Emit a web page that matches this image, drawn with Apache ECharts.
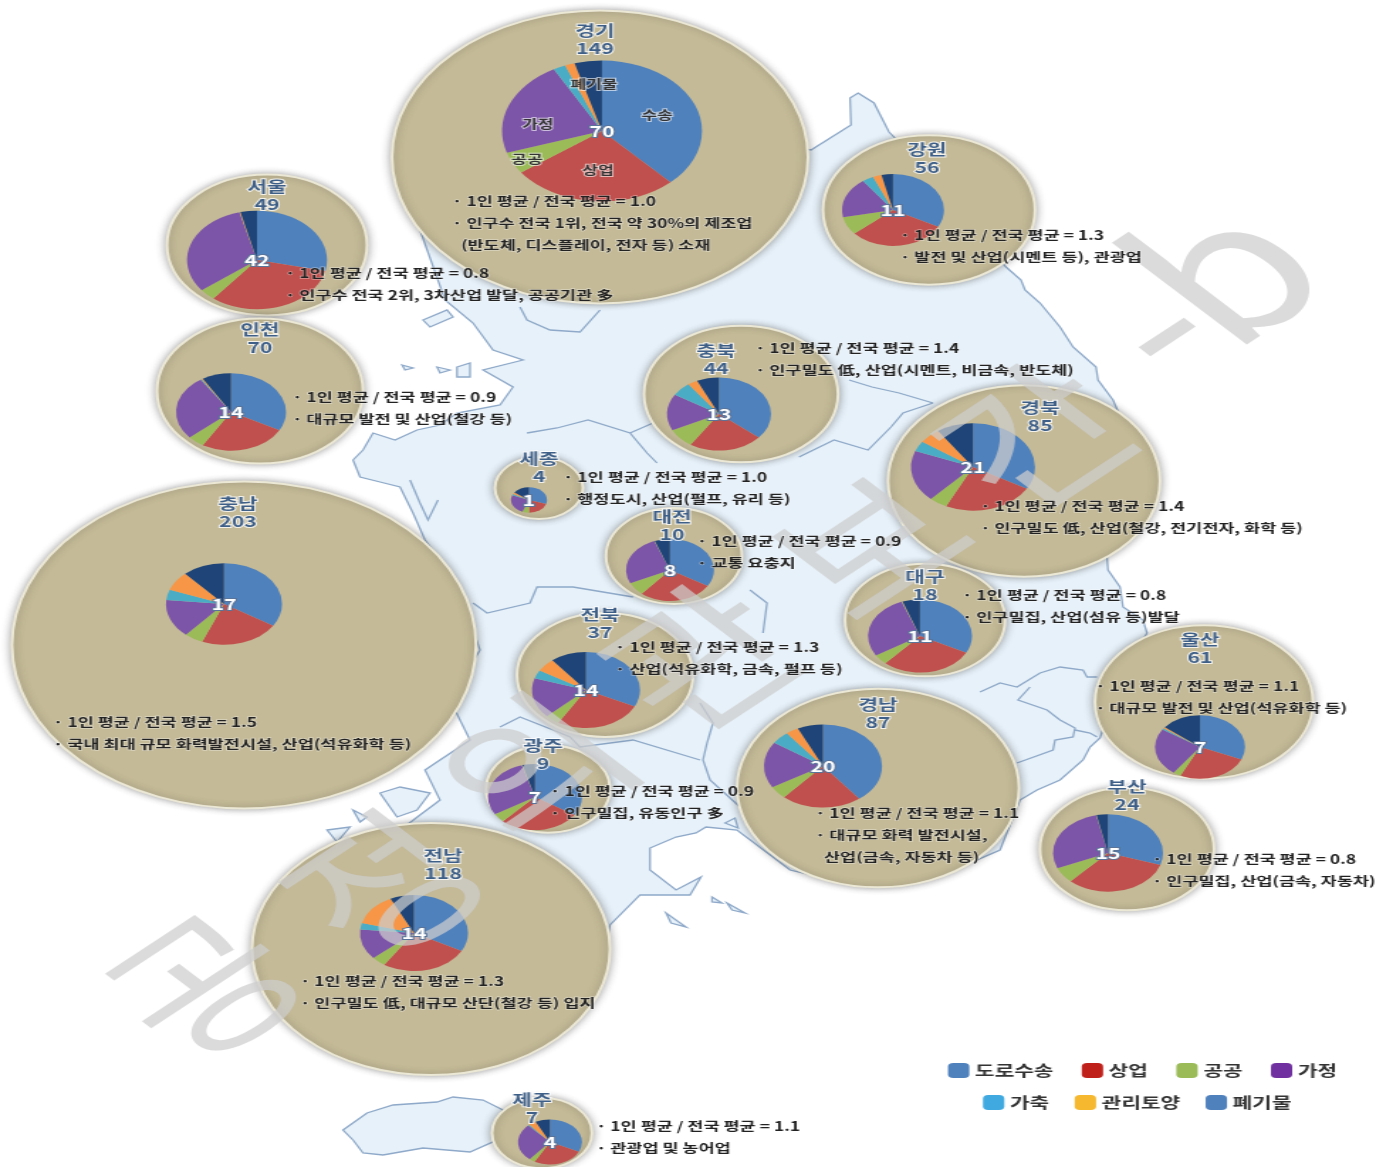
<!DOCTYPE html>
<html lang="ko"><head><meta charset="utf-8">
<style>html,body{margin:0;padding:0;background:#fff;overflow:hidden;width:1388px;height:1167px}
#stage{position:absolute;left:0;top:0;height:1167px;transform-origin:0 0;filter:blur(.45px)}</style>
<script src="https://cdn.jsdelivr.net/npm/echarts@6/dist/echarts.min.js"></script>
</head><body><div id="stage"></div>
<script>
// ---------- data ----------
const regions = ['경기','서울','인천','강원','충북','세종','대전','경북','충남','대구','전북','울산','광주','경남','부산','전남','제주'];
const bubbleTotals = [149,49,70,56,44,4,10,85,203,18,37,61,9,87,24,118,7];
const pieTotals = [70,42,14,11,13,1,8,21,17,11,14,7,7,20,15,14,4];
const sectors = ['도로수송','상업','공공','가정','가축','관리토양','폐기물'];
const transport = [26.6,12,4.6,3.6,4.7,.3,2.7,7,5.8,3.6,4.5,2.2,2.4,7.9,4.5,4.6,1.3];
const commerce  = [18.9,13.5,3.6,3.4,3,.2,2.2,5,3.8,3.2,3.7,1.8,1.95,4.4,4.8,3.7,1.05];
const publicUse = [3.5,1.6,.7,.9,1.1,.06,.55,1,.9,.5,.6,.2,.3,1,1,.6,.12];
const household = [15.4,13.2,3.8,2,2.1,.25,2.1,4,2.6,3.1,2.4,1.7,2.05,3.6,4.2,1.8,1.1];
const livestock = [1.4,.02,.05,.4,.8,.02,.01,.8,.7,.02,.5,.05,.01,1,.01,.4,.03];
const soil      = [1.1,.08,.05,.3,.4,.02,.01,1.2,1.3,.02,.8,.05,.01,.7,.01,1.9,.15];
const waste     = [3.1,1.6,1.2,.4,.9,.15,.45,2,2,.6,1.5,1,.3,1.4,.5,1,.3];
const sectorSeries = [transport,commerce,publicUse,household,livestock,soil,waste];
const ratios = ['1.0','0.8','0.9','1.3','1.4','1.0','0.9','1.4','1.5','0.8','1.3','1.1','0.9','1.1','0.8','1.3','1.1'];
const notes = [
 ['· 인구수 전국 1위, 전국 약 30%의 제조업','(반도체, 디스플레이, 전자 등) 소재'],
 ['· 인구수 전국 2위, 3차산업 발달, 공공기관 多'],
 ['· 대규모 발전 및 산업(철강 등)'],
 ['· 발전 및 산업(시멘트 등), 관광업'],
 ['· 인구밀도 低, 산업(시멘트, 비금속, 반도체)'],
 ['· 행정도시, 산업(펄프, 유리 등)'],
 ['· 교통 요충지'],
 ['· 인구밀도 低, 산업(철강, 전기전자, 화학 등)'],
 ['· 국내 최대 규모 화력발전시설, 산업(석유화학 등)'],
 ['· 인구밀집, 산업(섬유 등)발달'],
 ['· 산업(석유화학, 금속, 펄프 등)'],
 ['· 대규모 발전 및 산업(석유화학 등)'],
 ['· 인구밀집, 유동인구 多'],
 ['· 대규모 화력 발전시설,','산업(금속, 자동차 등)'],
 ['· 인구밀집, 산업(금속, 자동차)'],
 ['· 인구밀도 低, 대규모 산단(철강 등) 입지'],
 ['· 관광업 및 농어업']
];
const sliceLabels = [['수송',657,115],['상업',598,170],['공공',527,159],['가정',538,124],['폐기물',594,84]];
const watermarkGlyphs = [['공',205,985,140],['정',385,885,140],['의',535,767,140],['관',700,658,140],['보',870,546,140],['간',1035,437,140],['-',1167,337,170],['b',1222,270,175]];

// ---------- layout (reference pixels) ----------
const K = 1.42; // the reference is stretched horizontally
document.getElementById('stage').style.width = (1388/K)+'px';
document.getElementById('stage').style.transform = 'scaleX('+K+')';
const bubbleBox = [[600,157,208],[267,245,100],[260,391,103],[929,210,106],[741,394,97],[539,488,44],[674,556,68],[1024,481,136],[244,645,232],[925,620,80],[605,675,88],[1204,702,109],[548,789,62],[878,788,141],[1127,849,87],[431,949,179],[542,1133,50]];
const pieBox = [[602,131,100],[257,260,70],[231,412,55],[893,210,51],[719,414,52],[529,500,18],[670,570,44],[973,467,62],[224,604,58],[920,636,52],[586,690,54],[1200,747,45],[535,797,47],[823,766,59],[1108,853,55],[414,933,54],[550,1142,32]];
const nameBox = [[595,30],[267,186],[260,329],[927,149],[716,350],[539,458],[672,516],[1040,407],[238,503],[925,576],[600,614],[1200,639],[543,745],[878,704],[1127,786],[443,855],[532,1099]];
const noteBox = [[452,201],[285,273],[292,397],[900,235],[755,348],[563,477],[697,541],[980,506],[53,722],[962,595],[615,647],[1095,686],[550,791],[815,813],[1152,859],[300,981],[596,1126]];
const sliceColors = ['#4f81bd','#c0504d','#9bbb59','#7d55a8','#4bacc6','#f79646','#1f4477'];
const legendColors = ['#4f81bd','#c0201a','#9bbb59','#7030a0','#3fa9e0','#f5b82e','#4f81bd'];

// map backdrop
const landOutline = [[858,93],[874,103],[889,132],[895,138],[1006,267],[1021,280],[1025,290],[1040,303],[1060,327],[1073,347],[1096,367],[1098,380],[1113,400],[1135,450],[1130,520],[1107,557],[1108,570],[1120,587],[1123,607],[1143,620],[1147,633],[1120,680],[1100,738],[1090,747],[1083,760],[1060,780],[1037,790],[1020,800],[1000,850],[930,880],[854,885],[790,870],[737,830],[706,827],[696,833],[676,837],[650,848],[650,870],[676,890],[701,877],[690,895],[640,895],[610,925],[600,975],[570,1000],[500,1020],[400,1040],[300,1000],[330,950],[370,850],[400,830],[440,800],[425,770],[470,740],[450,700],[480,650],[455,580],[440,560],[425,540],[413,513],[400,487],[380,482],[360,477],[353,460],[363,450],[373,433],[395,440],[417,430],[440,425],[457,413],[500,405],[513,387],[483,370],[523,360],[493,350],[473,323],[445,300],[420,230],[500,100],[811,150],[851,125],[850,98]];
const islands = [
 [[423,320],[447,310],[453,317],[430,327]],[[437,367],[450,370],[440,373]],[[457,367],[470,363],[470,377],[457,377]],[[402,365],[413,368],[405,370]],
 [[712,897],[722,903],[712,902]],[[727,903],[745,913],[732,910]],[[666,913],[686,927],[671,923]],[[725,823],[735,818],[738,828]],
 [[380,793],[400,787],[430,793],[417,810],[397,817]],[[353,810],[367,817],[360,822]],[[327,830],[350,827],[337,842]],
 [[343,1130],[367,1113],[393,1105],[437,1102],[453,1097],[483,1100],[503,1110],[497,1140],[470,1152],[423,1148],[383,1155],[363,1153],[353,1140]]
];
const borders = [
 [[527,433],[557,428],[588,420],[630,433],[647,453],[657,463]],
 [[520,307],[527,320],[550,330],[580,332],[600,310]],
 [[473,603],[487,613],[530,603],[537,587],[573,587],[633,597]],
 [[849,380],[872,387],[899,393],[933,403]],
 [[799,457],[834,440],[868,450],[891,427],[903,413],[933,403]],
 [[700,703],[713,723],[707,743],[703,760],[710,780],[740,807]],
 [[500,727],[520,717],[553,730],[570,737],[580,747],[633,740],[700,760]],
 [[980,692],[1000,683],[1017,687],[1040,673],[1060,667],[1083,670],[1087,677],[1097,677]],
 [[1030,687],[1018,700],[1047,710],[1060,720],[1075,728],[1073,737],[1055,740],[1053,750],[1017,763]],
 [[1075,730],[1090,733],[1097,737]],
 [[763,633],[767,603],[750,590]],
 [[630,433],[660,420],[650,390],[700,340]],
 [[410,480],[420,503],[428,520],[438,500]]
];

// ---------- build ----------
const FONT = '"Noto Sans CJK KR","Noto Sans",sans-serif';
const scalePts = pts => pts.map(p => [p[0]/K, p[1]]);
const graphic = [];
[landOutline].concat(islands).forEach(pts => graphic.push({type:'polygon',z:0,silent:true,
  shape:{points:scalePts(pts)},style:{fill:'#e7f1f9',stroke:'#8ea9c9',lineWidth:1.3}}));
borders.forEach(pts => graphic.push({type:'polyline',z:0,silent:true,
  shape:{points:scalePts(pts)},style:{fill:null,stroke:'#8ea9c9',lineWidth:1.3}}));
const txt = (s,x,y,st) => graphic.push({type:'text',z:90,silent:true,x:x/K,y:y,
  style:Object.assign({text:s,fontFamily:FONT,textVerticalAlign:'middle'},st)});
regions.forEach((r,i)=>{
  const c = {fontSize:15,fontWeight:'bold',textAlign:'center',fill:'#3e5f87',stroke:'rgba(255,255,255,.8)',lineWidth:2};
  txt(r,nameBox[i][0],nameBox[i][1],c);
  txt(String(bubbleTotals[i]),nameBox[i][0],nameBox[i][1]+18.5,c);
  txt(String(pieTotals[i]),pieBox[i][0],pieBox[i][1],{fontSize:15,fontWeight:'bold',textAlign:'center',fill:'#fff',stroke:'#5a7499',lineWidth:2});
  const lines = ['· 1인 평균 / 전국 평균 = '+ratios[i]].concat(notes[i]);
  lines.forEach((l,j)=>{
    const ix = (j===2) ? 9 : 0;
    txt(l,noteBox[i][0]+ix,noteBox[i][1]+j*22,{fontSize:12.3,fontWeight:'bold',textAlign:'left',fill:'#222',stroke:'rgba(255,255,255,.4)',lineWidth:1.5});
  });
});
sliceLabels.forEach(l=>txt(l[0],l[1],l[2],{fontSize:12,fontWeight:'bold',textAlign:'center',fill:'#333',stroke:'rgba(255,255,255,.6)',lineWidth:2}));
// watermark, placed glyph by glyph along the reference's diagonal
watermarkGlyphs.forEach(g=>graphic.push({type:'text',z:80,silent:true,x:g[1]/K,y:g[2],rotation:0.75,
  style:{text:g[0],fontFamily:FONT,fontSize:g[3],fill:'rgba(205,205,205,.72)',textAlign:'center',textVerticalAlign:'middle'}}));

const series = [];
regions.forEach((r,i)=>{
  const b = bubbleBox[i];
  series.push({type:'pie',name:r+' 배출량',silent:true,animation:false,z:2,
    center:[b[0]/K,b[1]],radius:[0,b[2]/K],label:{show:false},labelLine:{show:false},legendHoverLink:false,
    itemStyle:{color:'#c4ba97',borderColor:'#ece8d6',borderWidth:2,shadowBlur:6,shadowColor:'rgba(60,60,60,.45)'},
    tooltip:{show:false},
    data:[{name:r+' 합계',value:bubbleTotals[i]}]});
});
regions.forEach((r,i)=>{
  const p = pieBox[i];
  series.push({type:'pie',name:r,silent:true,animation:false,z:3,startAngle:90,clockwise:true,
    center:[p[0]/K,p[1]],radius:[0,p[2]/K],label:{show:false},labelLine:{show:false},
    data:sectors.map((s,j)=>({name:s,value:sectorSeries[j][i],itemStyle:{color:sliceColors[j]}}))});
});
const legendItem = j => ({name:sectors[j],icon:'roundRect',itemStyle:{color:legendColors[j]}});
const legendBase = {orient:'horizontal',selectedMode:false,itemWidth:15,itemHeight:15,
  textStyle:{fontFamily:FONT,fontSize:15,fontWeight:'bold',color:'#333',padding:[0,0,0,-1]},padding:0};
const option = {
  backgroundColor:'#fff',animation:false,
  legend:[
    Object.assign({},legendBase,{left:948/K,top:1063,itemGap:20,data:[0,1,2,3].map(legendItem)}),
    Object.assign({},legendBase,{left:983/K,top:1095,itemGap:18,data:[4,5,6].map(legendItem)})
  ],
  graphic:{elements:graphic},
  series
};
echarts.init(document.getElementById('stage')).setOption(option);
</script></body></html>
